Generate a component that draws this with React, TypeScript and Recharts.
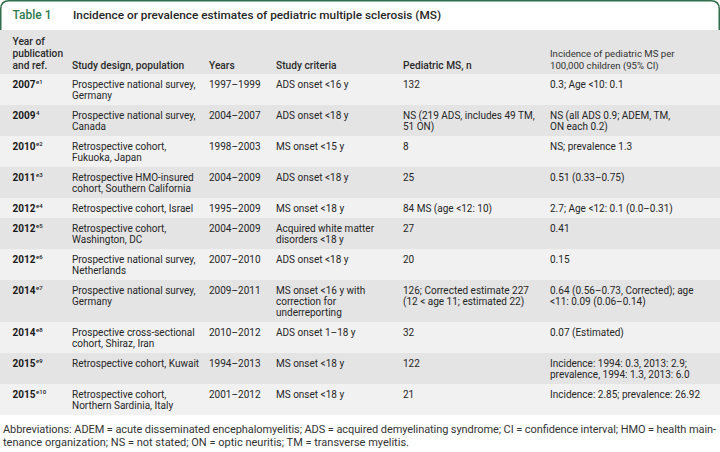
import React from "react";
import { BarChart, Bar, XAxis, YAxis } from "recharts";

const tableLabel = "Table 1";
const tableTitle = "Incidence or prevalence estimates of pediatric multiple sclerosis (MS)";

const headers = [
  "Year of\npublication\nand ref.",
  "Study design, population",
  "Years",
  "Study criteria",
  "Pediatric MS, n",
  "Incidence of pediatric MS per\n100,000 children (95% CI)",
];

const years = ["2007", "2009", "2010", "2011", "2012", "2012", "2012", "2014", "2014", "2015", "2015"];
const refs = ["e1", "4", "e2", "e3", "e4", "e5", "e6", "e7", "e8", "e9", "e10"];
const designs = [
  "Prospective national survey,\nGermany",
  "Prospective national survey,\nCanada",
  "Retrospective cohort,\nFukuoka, Japan",
  "Retrospective HMO-insured\ncohort, Southern California",
  "Retrospective cohort, Israel",
  "Retrospective cohort,\nWashington, DC",
  "Prospective national survey,\nNetherlands",
  "Prospective national survey,\nGermany",
  "Prospective cross-sectional\ncohort, Shiraz, Iran",
  "Retrospective cohort, Kuwait",
  "Retrospective cohort,\nNorthern Sardinia, Italy",
];
const periods = [
  "1997–1999", "2004–2007", "1998–2003", "2004–2009", "1995–2009", "2004–2009",
  "2007–2010", "2009–2011", "2010–2012", "1994–2013", "2001–2012",
];
const criteria = [
  "ADS onset <16 y",
  "ADS onset <18 y",
  "MS onset <15 y",
  "ADS onset <18 y",
  "MS onset <18 y",
  "Acquired white matter\ndisorders <18 y",
  "ADS onset <18 y",
  "MS onset <16 y with\ncorrection for\nunderreporting",
  "ADS onset 1–18 y",
  "MS onset <18 y",
  "MS onset <18 y",
];
const counts = [
  "132",
  "NS (219 ADS, includes 49 TM,\n51 ON)",
  "8",
  "25",
  "84 MS (age <12: 10)",
  "27",
  "20",
  "126; Corrected estimate 227\n(12 < age 11; estimated 22)",
  "32",
  "122",
  "21",
];
const incidence = [
  "0.3; Age <10: 0.1",
  "NS (all ADS 0.9; ADEM, TM,\nON each 0.2)",
  "NS; prevalence 1.3",
  "0.51 (0.33–0.75)",
  "2.7; Age <12: 0.1 (0.0–0.31)",
  "0.41",
  "0.15",
  "0.64 (0.56–0.73, Corrected); age\n<11: 0.09 (0.06–0.14)",
  "0.07 (Estimated)",
  "Incidence: 1994: 0.3, 2013: 2.9;\nprevalence, 1994: 1.3, 2013: 6.0",
  "Incidence: 2.85; prevalence: 26.92",
];
const footnoteLines = [
  "Abbreviations: ADEM = acute disseminated encephalomyelitis; ADS = acquired demyelinating syndrome; CI = confidence interval; HMO = health main-",
  "tenance organization; NS = not stated; ON = optic neuritis; TM = transverse myelitis.",
];

// ---- layout / style constants ----
const W = 720;
const H = 452;
const TITLE_H = 30;
const LINE = 11;
const COL_X = [12.5, 72, 209, 276, 403, 550];
const FONT = "Roboto, 'Liberation Sans', sans-serif";
const DARK = "#e4e4e4";
const LIGHT = "#f1f1f1";
const GREEN = "#2f6e4c";
const TEXT = "#262626";

const lineCount = (s: string) => s.split("\n").length;
const bodyRows = years.map((y, i) => ({
  year: y,
  ref: refs[i],
  cells: [designs[i], periods[i], criteria[i], counts[i], incidence[i]],
}));
const headerLines = Math.max(...headers.map(lineCount));
const rowUnits = [
  headerLines * LINE + 11,
  ...bodyRows.map((r) => Math.max(...r.cells.map(lineCount)) * LINE + 9),
];
const totalUnits = rowUnits.reduce((a, b) => a + b, 0);
const chartData = [
  rowUnits.reduce((o: any, v, i) => {
    o["row" + i] = v;
    return o;
  }, { name: "table" }),
];

function HeaderShape(props: any) {
  const { x, y, width, height } = props;
  const top = Math.min(y, y + height);
  const h = Math.abs(height);
  const bottomBase = top + h - 5.5;
  return (
    <g>
      <rect x={x} y={top} width={width} height={h} fill={DARK} />
      {headers.map((hd, c) => {
        const lines = hd.split("\n");
        const small = c === 5;
        const step = small ? 11.5 : 12;
        return (
          <text
            key={c}
            fontFamily={FONT}
            fontSize={small ? 9.6 : 10.2}
            fontWeight={small ? 400 : 500}
            fill={small ? "#333" : "#2a2a2a"}
          >
            {lines.map((l, k) => (
              <tspan key={k} x={x + COL_X[c]} y={bottomBase - (lines.length - 1 - k) * step}>
                {l}
              </tspan>
            ))}
          </text>
        );
      })}
    </g>
  );
}

function BodyShape(props: any) {
  const { x, y, width, height, rowIndex } = props;
  const row = bodyRows[rowIndex];
  const top = Math.min(y, y + height);
  const h = Math.abs(height);
  const base = top + 14;
  return (
    <g>
      <rect x={x} y={top} width={width} height={h} fill={rowIndex % 2 === 0 ? LIGHT : DARK} />
      <text x={x + COL_X[0]} y={base} fontFamily={FONT} fill="#1a1a1a">
        <tspan fontSize={10} fontWeight={700}>{row.year}</tspan>
        <tspan fontSize={6} fontWeight={500} dy={-3.8} dx={0.6}>{row.ref}</tspan>
      </text>
      {row.cells.map((cell, c) => (
        <text key={c} fontFamily={FONT} fontSize={10} fill={TEXT}>
          {cell.split("\n").map((l, k) => (
            <tspan key={k} x={x + COL_X[c + 1]} y={base + k * LINE}>
              {l}
            </tspan>
          ))}
        </text>
      ))}
    </g>
  );
}

export default function App() {
  const tableH = totalUnits;
  return (
    <div style={{ position: "absolute", left: 0, top: 0, width: W, height: H, background: "#fff", overflow: "hidden" }}>
      <BarChart
        width={W}
        height={H}
        data={chartData}
        margin={{ top: TITLE_H, right: 0, bottom: H - TITLE_H - tableH, left: 0 }}
        barCategoryGap={0}
        barGap={0}
      >
        <XAxis dataKey="name" type="category" hide />
        <YAxis type="number" domain={[0, totalUnits]} reversed hide />
        {rowUnits.map((_, i) => (
          <Bar
            key={i}
            dataKey={"row" + i}
            stackId="rows"
            isAnimationActive={false}
            shape={(p: any) => (i === 0 ? <HeaderShape {...p} /> : <BodyShape {...p} rowIndex={i - 1} />)}
          />
        ))}
      </BarChart>
      <svg
        width={W}
        height={H}
        style={{ position: "absolute", left: 0, top: 0, pointerEvents: "none" }}
      >
        <path
          d={`M0.75,${TITLE_H} L0.75,9 Q0.75,0.75 9,0.75 L${W - 9},0.75 Q${W - 0.75},0.75 ${W - 0.75},9 L${W - 0.75},${TITLE_H}`}
          fill="none"
          stroke={GREEN}
          strokeWidth={1.5}
        />
        <text x={12.5} y={19} fontFamily={FONT} fontSize={12} fontWeight={500} fill="#2e7a50">
          {tableLabel}
        </text>
        <text x={73} y={19} fontFamily={FONT} fontSize={11.8} fontWeight={500} fill="#262626">
          {tableTitle}
        </text>
        <text x={3} y={TITLE_H + tableH + 18} fontFamily={FONT} fontSize={11} fill="#333" textLength={713} lengthAdjust="spacing">
          {footnoteLines[0]}
        </text>
        <text x={3} y={TITLE_H + tableH + 31} fontFamily={FONT} fontSize={11} fill="#333">
          {footnoteLines[1]}
        </text>
      </svg>
    </div>
  );
}
